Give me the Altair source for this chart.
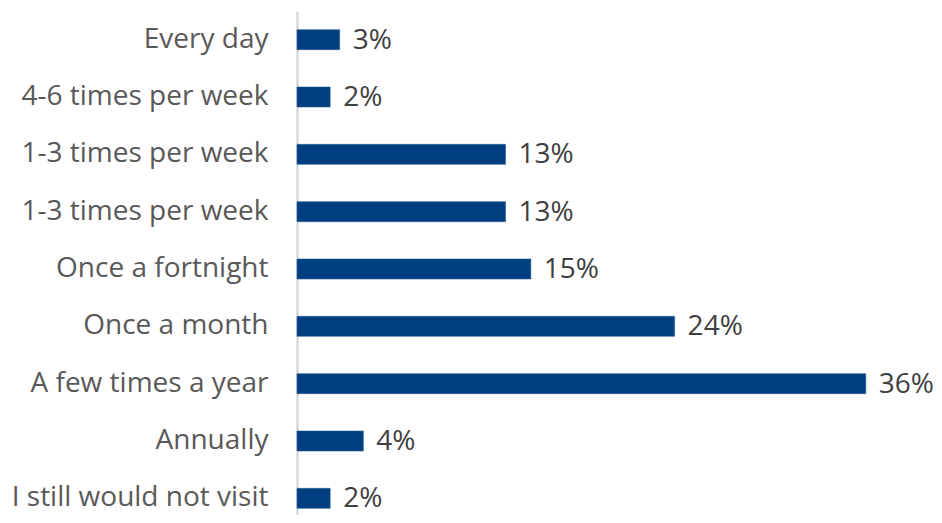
import altair as alt
import pandas as pd
import json

categories = ["Every day", "4-6 times per week", "1-3 times per week", "1-3 times per week",
              "Once a fortnight", "Once a month", "A few times a year", "Annually",
              "I still would not visit"]
values = [2.7, 2.1, 13.2, 13.2, 14.8, 23.9, 36.0, 4.2, 2.1]
labels = ["3%", "2%", "13%", "13%", "15%", "24%", "36%", "4%", "2%"]

df = pd.DataFrame({"idx": list(range(len(categories))), "cat": categories,
                   "value": values, "label": labels})

label_expr = json.dumps(categories) + "[datum.value]"
FONT = "Open Sans"

y = alt.Y("idx:O", sort=None,
          scale=alt.Scale(range=[0, 516], paddingInner=0.651, paddingOuter=0.3255),
          axis=alt.Axis(title=None, labelExpr=label_expr, ticks=False, labelPadding=29,
                        labelFontSize=28, labelFont=FONT, labelColor="#595959",
                        domainColor="#d9d9d9", domainWidth=2.5, labelLimit=400))
x = alt.X("value:Q", scale=alt.Scale(domain=[0, 40], nice=False), axis=None)

bars = alt.Chart(df).mark_bar(color="#003F7F", stroke="#2a5f96", strokeWidth=0.6).encode(x=x, y=y)
text = alt.Chart(df).mark_text(align="left", baseline="middle", dx=13, dy=1, fontSize=28,
                               font=FONT, color="#404040").encode(x=x, y=y, text="label:N")

chart = (bars + text).properties(
    width=632, height=504,
    autosize=alt.AutoSizeParams(type="none"),
    padding={"left": 289, "top": 3, "right": 5, "bottom": 0},
).configure_view(stroke=None).configure_axis(grid=False)

chart.save("out.html", embed_options={"renderer": "svg", "actions": False})
